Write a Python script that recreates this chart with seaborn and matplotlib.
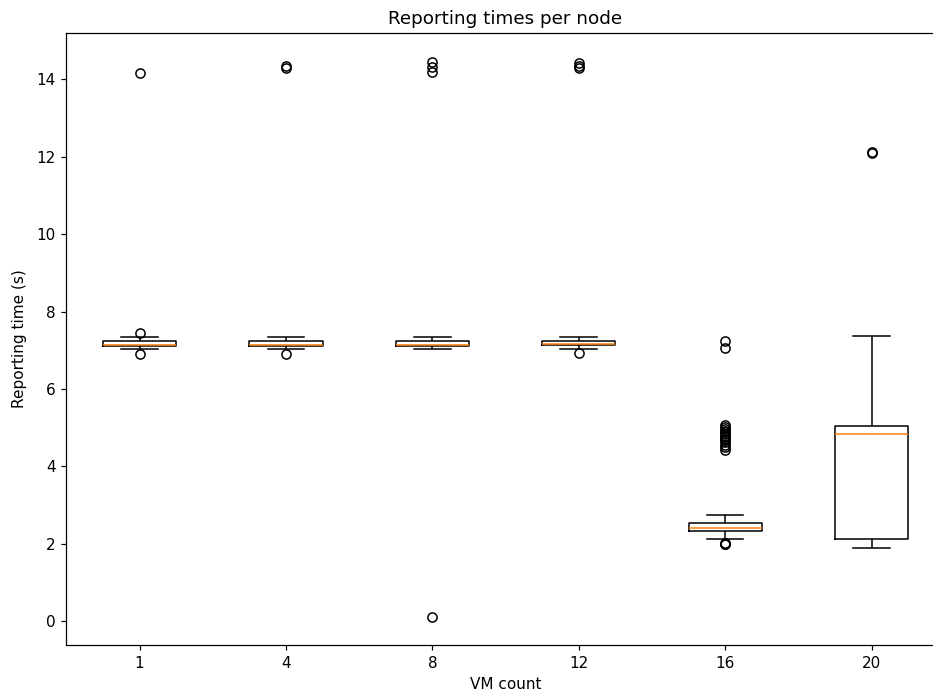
import matplotlib
matplotlib.use("Agg")
import matplotlib.pyplot as plt
import pandas as pd
import seaborn as sns

# Reporting times (seconds) measured for each VM count
vm_counts = [1, 4, 8, 12, 16, 20]

times_vm1 = [6.91, 7.02, 7.06, 7.08, 7.10, 7.11, 7.12, 7.12, 7.13, 7.13, 7.14,
             7.15, 7.17, 7.19, 7.21, 7.23, 7.26, 7.30, 7.34, 7.44, 14.16]

times_vm4 = [6.91, 7.03, 7.06, 7.08, 7.10, 7.11, 7.12, 7.12, 7.12, 7.13, 7.13,
             7.14, 7.16, 7.18, 7.20, 7.23, 7.26, 7.30, 7.34, 14.29, 14.35]

times_vm8 = [0.10, 7.03, 7.07, 7.09, 7.11, 7.12, 7.12, 7.13, 7.13, 7.14, 7.14,
             7.15, 7.17, 7.20, 7.23, 7.25, 7.28, 7.35, 14.18, 14.32, 14.44]

times_vm12 = [6.93, 7.04, 7.07, 7.09, 7.11, 7.13, 7.13, 7.14, 7.14, 7.15, 7.15,
              7.16, 7.18, 7.20, 7.22, 7.25, 7.28, 7.35, 14.30, 14.35, 14.42]

times_vm16 = [1.99, 2.00, 2.00, 2.01, 2.12,
              2.15, 2.18, 2.20, 2.22, 2.24, 2.25, 2.26, 2.27, 2.28, 2.29,
              2.30, 2.30, 2.31, 2.32, 2.32,
              2.33,
              2.33, 2.34, 2.34, 2.35, 2.35, 2.36, 2.36, 2.36, 2.37, 2.37,
              2.38, 2.38, 2.38, 2.39, 2.39, 2.39, 2.40, 2.40, 2.40,
              2.41,
              2.41, 2.42, 2.42, 2.43, 2.43, 2.44, 2.44, 2.45, 2.45, 2.46,
              2.47, 2.47, 2.48, 2.49, 2.50, 2.50, 2.51, 2.52, 2.53,
              2.54,
              2.58, 2.62, 2.68, 2.74,
              4.42, 4.50, 4.56, 4.62, 4.67, 4.71, 4.75, 4.79, 4.84, 4.88,
              4.92, 4.97, 5.02, 5.07, 7.07, 7.24]

times_vm20 = [1.90, 1.95, 2.00, 2.05, 2.09, 2.12, 2.60, 3.20, 3.90, 4.50, 4.84,
              4.88, 4.93, 4.98, 5.02, 5.05, 5.60, 6.30, 7.37, 12.10, 12.12]

series = [times_vm1, times_vm4, times_vm8, times_vm12, times_vm16, times_vm20]

df = pd.DataFrame({
    "vm": [vm for vm, vals in zip(vm_counts, series) for _ in vals],
    "time": [v for vals in series for v in vals],
})

W, H, DPI = 934, 693, 110
fig = plt.figure(figsize=(W / DPI, H / DPI), dpi=DPI)
ax = fig.add_axes([66.3 / W, 48 / H, 878.5 / W, 612 / H])

sns.boxplot(
    data=df, x="vm", y="time", order=vm_counts, ax=ax,
    width=0.5, fill=False, color="black", linewidth=1,
    medianprops=dict(color="#ff7f0e", linewidth=1),
    flierprops=dict(marker="o", markerfacecolor="none",
                    markeredgecolor="black", markersize=6,
                    markeredgewidth=1),
)

ax.set_xlim(-0.5, 5.5)
ax.set_ylim(-0.62, 15.20)
ax.set_title("Reporting times per node", fontsize=12)
ax.set_xlabel("VM count")
ax.set_ylabel("Reporting time (s)", labelpad=6)

fig.savefig("out.png", dpi=DPI)
